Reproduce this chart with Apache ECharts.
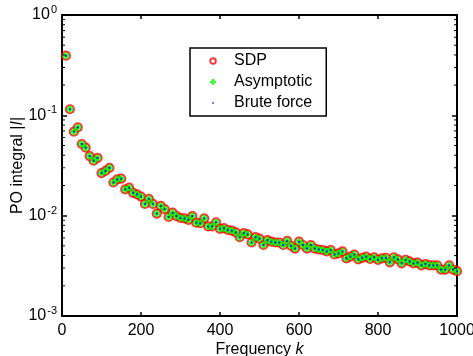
<!DOCTYPE html>
<html>
<head>
<meta charset="utf-8">
<script src="https://cdn.jsdelivr.net/npm/echarts@6/dist/echarts.min.js"></script>
<style>
html,body{margin:0;padding:0;background:#fff;}
#c{width:473px;height:356px;}
</style>
</head>
<body>
<div id="c"></div>
<script>
const frequencies = [10,20,30,40,50,60,70,80,90,100,110,120,130,140,150,160,170,180,190,200,
210,220,230,240,250,260,270,280,290,300,310,320,330,340,350,360,370,380,390,400,
410,420,430,440,450,460,470,480,490,500,510,520,530,540,550,560,570,580,590,600,
610,620,630,640,650,660,670,680,690,700,710,720,730,740,750,760,770,780,790,800,
810,820,830,840,850,860,870,880,890,900,910,920,930,940,950,960,970,980,990,1000];
const integralValues = [0.393,0.115,0.0687,0.076,0.0518,0.0476,0.0393,0.0353,0.0376,0.0266,
0.0279,0.030,0.0214,0.023,0.0234,0.0183,0.0190,0.0169,0.0163,0.0155,
0.0131,0.0147,0.0131,0.0105,0.0125,0.0116,0.0097,0.0107,0.0099,0.0095,
0.0094,0.0091,0.0099,0.0085,0.0084,0.0094,0.0078,0.0078,0.0086,0.0074,
0.0075,0.0072,0.0071,0.0068,0.0061,0.0067,0.0065,0.0054,0.0061,0.0059,
0.0051,0.0057,0.0055,0.0054,0.0054,0.0051,0.0056,0.0050,0.0047,0.0055,
0.0051,0.0047,0.0051,0.0047,0.0046,0.00455,0.0044,0.00455,0.0041,0.0042,
0.0044,0.00376,0.0039,0.0041,0.00367,0.0038,0.0039,0.0037,0.00385,0.00363,
0.00376,0.0038,0.00343,0.00385,0.00367,0.00335,0.00363,0.0035,0.00335,0.0034,
0.0032,0.0033,0.0032,0.0032,0.0032,0.0029,0.0029,0.0032,0.0029,0.0028];
const xTicks = [0,200,400,600,800,1000];
const yDecades = [0.001,0.01,0.1,1];
const seriesNames = ['SDP','Asymptotic','Brute force'];

const pts = frequencies.map((k,i)=>[k, integralValues[i]]);
const FONT = 'Liberation Sans, Arial, Helvetica, sans-serif';
const FS = 16;

function svgIcon(inner){
  const s = '<svg xmlns="http://www.w3.org/2000/svg" width="23" height="14" viewBox="0 0 23 14">'+inner+'</svg>';
  return 'image://data:image/svg+xml;charset=utf-8,' + encodeURIComponent(s);
}
const iconSDP = svgIcon('<circle cx="7" cy="7" r="2.8" fill="none" stroke="#ff0000" stroke-width="1.9"/>');
const iconAsym = svgIcon('<rect x="5.8" y="4" width="2.4" height="6" fill="#00ff00"/><rect x="4" y="5.8" width="6" height="2.4" fill="#00ff00"/>');
const iconBrute = svgIcon('<rect x="6.2" y="6.2" width="1.6" height="1.6" fill="#0000ff"/>');

const chart = echarts.init(document.getElementById('c'), null, {renderer:'canvas'});
const axisLine = {show:true, onZero:false, lineStyle:{color:'#000', width:2}};
const yLabelFmt = v => { const e = Math.round(Math.log10(v)); return '{b|10}{s|' + (e<0?'-':'') + Math.abs(e) + '}'; };
const yRich = {
  b:{fontSize:FS, fontFamily:FONT, color:'#000'},
  s:{fontSize:11, fontFamily:FONT, color:'#000', verticalAlign:'top', padding:[0,0,10,1]}
};
const nameStyle = {fontSize:FS, fontFamily:FONT, color:'#000', rich:{i:{fontSize:FS, fontStyle:'italic', fontFamily:FONT, color:'#000'}}};

chart.setOption({
  animation:false,
  backgroundColor:'#fff',
  grid:{left:62, right:16, top:15, bottom:40, containLabel:false, outerBoundsMode:'none'},
  xAxis:[{
    type:'value', min:0, max:1000, interval:200, position:'bottom',
    axisLine, axisTick:{show:true, inside:true, length:4, lineStyle:{color:'#000', width:1.5}},
    splitLine:{show:false},
    axisLabel:{fontSize:FS, fontFamily:FONT, color:'#000', margin:7, formatter: v => String(v), customValues: xTicks},
    name:'Frequency {i|k}', nameLocation:'middle', nameGap:26, nameMoveOverlap:false, nameTextStyle:nameStyle
  },{
    type:'value', min:0, max:1000, interval:200, position:'top',
    axisLine, axisTick:{show:true, inside:true, length:4, lineStyle:{color:'#000', width:1.5}},
    axisLabel:{show:false}, splitLine:{show:false}
  }],
  yAxis:[{
    type:'log', logBase:10, min:0.001, max:1, position:'left',
    axisLine, axisTick:{show:true, inside:true, length:5, lineStyle:{color:'#000', width:1.5}},
    splitLine:{show:false},
    axisLabel:{formatter:yLabelFmt, rich:yRich, margin:5},
    name:'PO integral |{i|I}|', nameLocation:'middle', nameGap:36, nameMoveOverlap:false, nameRotate:90, nameTextStyle:nameStyle
  },{
    type:'log', logBase:10, min:0.001, max:1, position:'right',
    axisLine, axisTick:{show:true, inside:true, length:5, lineStyle:{color:'#000', width:1.5}},
    axisLabel:{show:false}, splitLine:{show:false}
  }],
  legend:{
    orient:'vertical', left:190, top:48,
    padding:[5,14,5,16], itemGap:5, itemWidth:23, itemHeight:14, itemTextGap:5,
    borderColor:'#000', borderWidth:1.5, backgroundColor:'#fff', borderRadius:0,
    textStyle:{fontSize:FS, fontFamily:FONT, color:'#000'},
    data:[{name:seriesNames[0], icon:iconSDP},{name:seriesNames[1], icon:iconAsym},{name:seriesNames[2], icon:iconBrute}],
    selectedMode:false
  },
  series:[
    {name:seriesNames[0], type:'scatter', data:pts, symbol:'circle', symbolSize:8,
     itemStyle:{color:'rgba(0,0,0,0)', borderColor:'#ff0000', borderWidth:2.2}, emphasis:{disabled:true}, z:2},
    {name:seriesNames[1], type:'scatter', data:pts, symbol:'path://M1.6,0 H4.4 V1.6 H6 V4.4 H4.4 V6 H1.6 V4.4 H0 V1.6 H1.6 Z', symbolSize:7,
     itemStyle:{color:'#00ff00'}, emphasis:{disabled:true}, z:3},
    {name:seriesNames[2], type:'scatter', data:pts, symbol:'rect', symbolSize:2,
     itemStyle:{color:'#0000ff'}, emphasis:{disabled:true}, z:4}
  ]
});

// log minor ticks computed through the axis scale
const minorVals = [];
for (let d = 0; d < yDecades.length-1; d++) for (let m = 2; m <= 9; m++) minorVals.push(yDecades[d]*m);
const xl = chart.convertToPixel({xAxisIndex:0}, 0);
const xr = chart.convertToPixel({xAxisIndex:0}, 1000);
const g = [];
minorVals.forEach(v => {
  const y = chart.convertToPixel({yAxisIndex:0}, v);
  g.push({type:'line', shape:{x1:xl, y1:y, x2:xl+3, y2:y}, style:{stroke:'#000', lineWidth:1}, silent:true, z:10});
  g.push({type:'line', shape:{x1:xr, y1:y, x2:xr-3, y2:y}, style:{stroke:'#000', lineWidth:1}, silent:true, z:10});
});
chart.setOption({graphic:g});
</script>
</body>
</html>
